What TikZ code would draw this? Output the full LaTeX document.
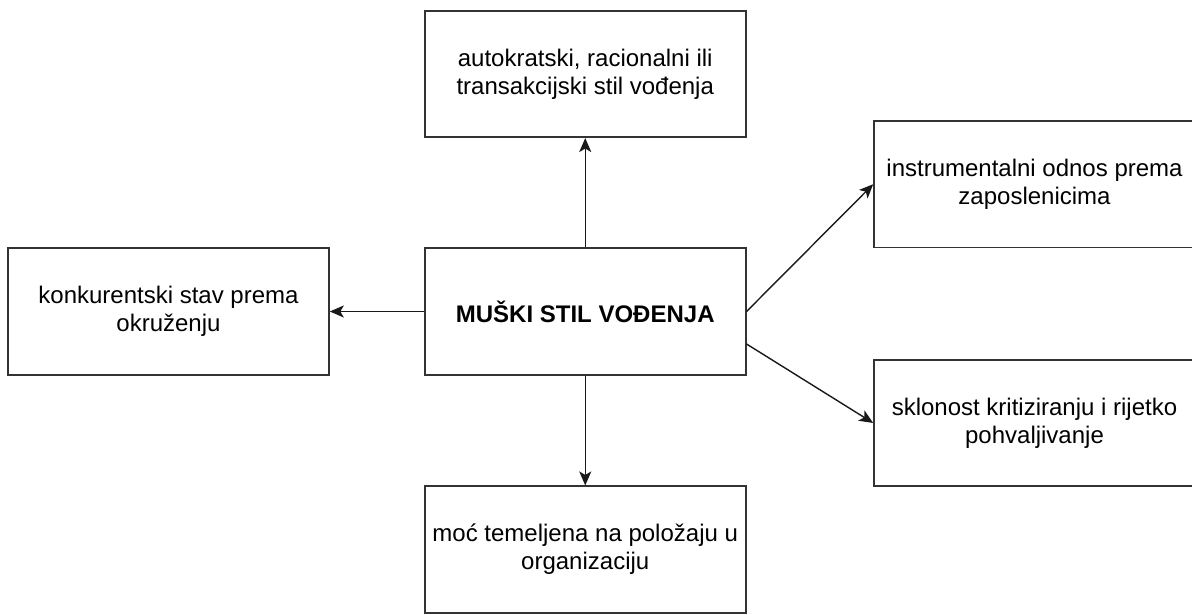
\documentclass[tikz,border=0pt]{standalone}
\usepackage{fontspec}
\setmainfont{Liberation Sans}
\usetikzlibrary{arrows.meta,calc}
\begin{document}
\begin{tikzpicture}[x=1pt,y=-1pt,
  box/.style={draw=black!80, line width=1.6pt, fill=white, rectangle,
    minimum width=321pt, minimum height=126.5pt, inner sep=0pt,
    align=center, font=\fontsize{24}{28}\selectfont},
  wbox/.style={box, minimum width=330pt},
  conn/.style={draw=black!90, line width=1.4pt,
    -{Stealth[length=14pt,width=12pt,inset=3.5pt]}}]
\useasboundingbox (0,0) rectangle (1192,615);
\node[box] (top) at (585.25,74) {autokratski, racionalni ili\\transakcijski stil vođenja};
\node[box] (mid) at (585.25,311.5) {\textbf{MUŠKI STIL VOĐENJA}};
\node[box] (left) at (168.5,311.5) {konkurentski stav prema\\okruženju};
\node[wbox] (rtop) at (1039,184.25) {\hspace*{-9pt}instrumentalni odnos prema\\\hspace*{-9pt}zaposlenicima};
\node[wbox] (rbot) at (1039,423) {\hspace*{-9pt}sklonost kritiziranju i rijetko\\\hspace*{-9pt}pohvaljivanje};
\node[box] (bot) at (585.25,549.5) {moć temeljena na položaju u\\organizaciju};
\coordinate (mse) at ($(mid.east)+(0,32.5)$);
\draw[conn] (mid.north) -- (top.south);
\draw[conn] (mid.south) -- (bot.north);
\draw[conn] (mid.west) -- (left.east);
\draw[conn] (mid.east) -- (rtop.west);
\draw[conn] (mse) -- (rbot.west);
\end{tikzpicture}
\end{document}
